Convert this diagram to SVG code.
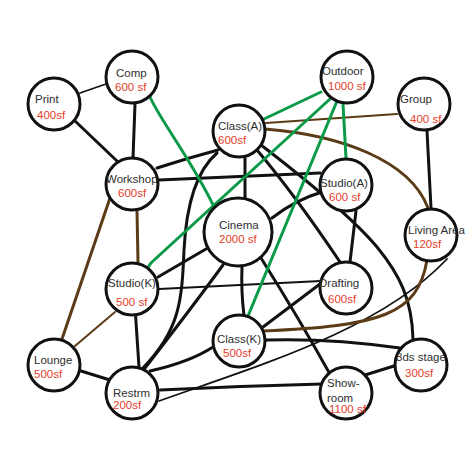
<svg xmlns="http://www.w3.org/2000/svg" width="474" height="474" viewBox="0 0 474 474">
<style>
.bg{fill:#fff}
.c path{fill:none;stroke-linecap:round}
.k{stroke:#111;stroke-width:3}
.kt{stroke:#111;stroke-width:1.8}
.b{stroke:#5c3b17;stroke-width:3}
.bt{stroke:#5c3b17;stroke-width:2}
.g{stroke:#0a9a48;stroke-width:3}
.node circle{fill:#fff;stroke:#111;stroke-width:3}
.n{font-family:"Liberation Sans",Arial,sans-serif;font-size:11.5px;fill:#2e2e2e}
.a{font-family:"Liberation Sans",Arial,sans-serif;font-size:11.5px;fill:#e5402a}
</style>
<rect class="bg" x="0" y="0" width="474" height="474"/>
<g id="connectors" class="c">
<path class="kt" d="M80,93 L106,84"/>
<path class="k" d="M75,121 Q95,140 117,161"/>
<path class="k" d="M135,104 L133,158"/>
<path class="k" d="M157,168 Q188,158 218,150"/>
<path class="k" d="M159,180 L320,173"/>
<path class="k" d="M245,158 L245,198"/>
<path class="k" d="M217,153 C195,172 186,210 184,250 C182,300 180,330 143,368"/>
<path class="k" d="M223,265 Q190,310 145,368"/>
<path class="k" d="M158,277 L206,249"/>
<path class="kt" d="M159,289 L321,281"/>
<path class="k" d="M135,307 L139,367"/>
<path class="k" d="M242,267 Q241,290 244,316"/>
<path class="k" d="M261,258 Q300,320 331,376"/>
<path class="k" d="M272,218 Q295,200 322,192"/>
<path class="k" d="M257,150 Q295,195 340,262"/>
<path class="k" d="M261,145 C300,175 350,215 377,247 C400,275 412,300 413,339"/>
<path class="k" d="M356,211 L350,262"/>
<path class="k" d="M263,327 L320,284"/>
<path class="k" d="M266,340 Q330,338 400,348"/>
<path class="k" d="M150,371 Q190,362 213,347"/>
<path class="kt" d="M159,401 C260,365 380,330 447,259"/>
<path class="k" d="M160,390 Q240,386 322,384"/>
<path class="k" d="M81,371 L110,380"/>
<path class="k" d="M365,375 L394,366"/>
<path class="k" d="M427,131 L431,208"/>
<path class="b" d="M137,211 L138,262"/>
<path class="b" d="M110,198 L62,339"/>
<path class="bt" d="M115,312 L75,346"/>
<path class="bt" d="M266,123 L397,114"/>
<path class="b" d="M265,129 C340,135 410,160 428,208"/>
<path class="b" d="M427,260 C418,315 380,326 263,331"/>
<path class="g" d="M150,97 C160,120 195,165 216,211"/>
<path class="g" d="M321,92 L264,119"/>
<path class="g" d="M330,99 L152,262 Q148,266 148,269"/>
<path class="g" d="M337,101 L248,316"/>
<path class="g" d="M343,104 L346,158"/>
</g>
<g id="print" class="node"><circle cx="54" cy="104" r="26"/><text class="n" x="35" y="103">Print</text><text class="a" x="37" y="119">400sf</text></g>
<g id="comp" class="node"><circle cx="132" cy="77" r="26"/><text class="n" x="116" y="77">Comp</text><text class="a" x="115" y="91">600 sf</text></g>
<g id="workshop" class="node"><circle cx="132" cy="184" r="26"/><text class="n" x="106" y="183">Workshop</text><text class="a" x="118" y="197">600sf</text></g>
<g id="classA" class="node"><circle cx="239" cy="131" r="26"/><text class="n" x="218" y="130">Class(A)</text><text class="a" x="218" y="144">600sf</text></g>
<g id="outdoor" class="node"><circle cx="347" cy="77" r="26"/><text class="n" x="322" y="75">Outdoor</text><text class="a" x="328" y="90">1000 sf</text></g>
<g id="group" class="node"><circle cx="424" cy="104" r="26"/><text class="n" x="400" y="103">Group</text><text class="a" x="410" y="123">400 sf</text></g>
<g id="studioA" class="node"><circle cx="346" cy="185" r="26"/><text class="n" x="320" y="187">Studio(A)</text><text class="a" x="329" y="201">600 sf</text></g>
<g id="cinema" class="node"><circle cx="238" cy="232" r="34"/><text class="n" x="219" y="229">Cinema</text><text class="a" x="219" y="243">2000 sf</text></g>
<g id="living" class="node"><circle cx="431" cy="235" r="26"/><text class="n" x="408" y="234">Living Area</text><text class="a" x="413" y="248">120sf</text></g>
<g id="studioK" class="node"><circle cx="132" cy="289" r="26"/><text class="n" x="108" y="287">Studio(K)</text><text class="a" x="116" y="306">500 sf</text></g>
<g id="drafting" class="node"><circle cx="346" cy="288" r="26"/><text class="n" x="319" y="287">Drafting</text><text class="a" x="328" y="303">600sf</text></g>
<g id="classK" class="node"><circle cx="239" cy="341" r="26"/><text class="n" x="217" y="343">Class(K)</text><text class="a" x="223" y="357">500sf</text></g>
<g id="lounge" class="node"><circle cx="54" cy="365" r="26"/><text class="n" x="34" y="364">Lounge</text><text class="a" x="34" y="378">500sf</text></g>
<g id="restrm" class="node"><circle cx="132" cy="393" r="26"/><text class="n" x="113" y="397">Restrm</text><text class="a" x="113" y="409">200sf</text></g>
<g id="stage" class="node"><circle cx="421" cy="365" r="26"/><text class="n" x="396" y="361">3ds stage</text><text class="a" x="405" y="377">300sf</text></g>
<g id="showroom" class="node"><circle cx="346" cy="393" r="26"/><text class="n" x="327" y="387">Show-</text><text class="n" x="327" y="402">room</text><text class="a" x="329" y="413">1100 sf</text></g>
</svg>
